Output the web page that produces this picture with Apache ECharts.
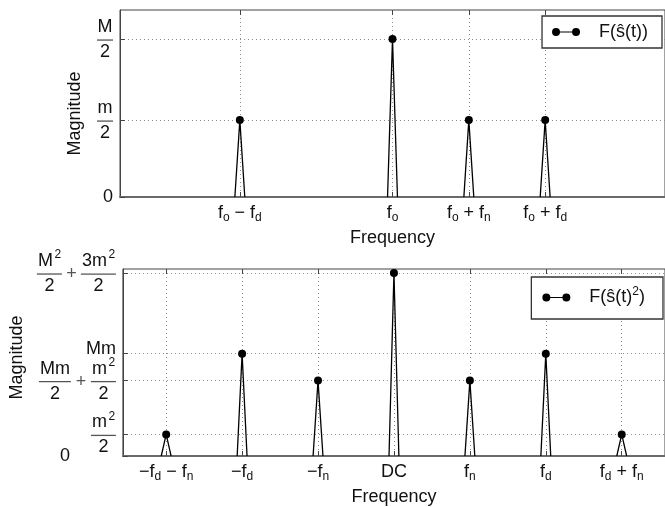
<!DOCTYPE html>
<html>
<head>
<meta charset="utf-8">
<title>Spectrum magnitude</title>
<script src="https://cdn.jsdelivr.net/npm/echarts@6/dist/echarts.min.js"></script>
<style>
  html, body { margin: 0; padding: 0; background: #fff; }
  #chart { width: 665px; height: 507px; }
</style>
</head>
<body>
<div id="chart"></div>
<script>
// ---- data -------------------------------------------------------------
// Frequency positions are in units of f_n (f_d = 2 f_n); magnitudes are
// normalised so that the tallest line of each spectrum is 1.
const TOP_NAME = 'F(ŝ(t))';
const BOTTOM_NAME = 'F(ŝ(t)²)';

// upper spectrum: F(ŝ(t))
const topLevels = [0, 0.487, 1.0];                 // 0, m/2, M/2
const topFreqs = [-2, 0, 1, 2];                    // fo-fd, fo, fo+fn, fo+fd
const topMagnitudes = [0.487, 1.0, 0.487, 0.487];
const topFreqLabels = [
  '{f|f}{s|o}{o| − }{f|f}{s|d}',
  '{f|f}{s|o}',
  '{f|f}{s|o}{o| + }{f|f}{s|n}',
  '{f|f}{s|o}{o| + }{f|f}{s|d}'
];
const topLevelLabels = [
  '{z|0}',
  '{n16|m}\n{b16| }\n{d16|2}',
  '{n16|M}\n{b16| }\n{d16|2}'
];

// lower spectrum: F(ŝ(t)²)
const bottomLevels = [0, 0.118, 0.412, 0.559, 1.0]; // 0, m²/2, Mm/2+m²/2, Mm, M²/2+3m²/2
const bottomFreqs = [-3, -2, -1, 0, 1, 2, 3];       // -fd-fn, -fd, -fn, DC, fn, fd, fd+fn
const bottomMagnitudes = [0.118, 0.559, 0.412, 1.0, 0.412, 0.559, 0.118];
const bottomFreqLabels = [
  '{f|−f}{s|d}{o| − }{f|f}{s|n}',
  '{f|−f}{s|d}',
  '{f|−f}{s|n}',
  '{f|DC}',
  '{f|f}{s|n}',
  '{f|f}{s|d}',
  '{f|f}{s|d}{o| + }{f|f}{s|n}'
];
const bottomLevelLabels = [
  '{z0|0}',
  '{n17|m}{sp8|2}\n{b25| }\n{d25|2}',
  '{n32|Mm}{g20| }{n17|m}{sp8|2}\n{b32| }{pl20|+}{b25| }\n{d32|2}{g20| }{d25|2}',
  '{mm|Mm}',
  '{n17|M}{sp8|2}{g19| }{n27|3m}{sp8|2}\n{b25| }{pl19|+}{b35| }\n{d25|2}{g19| }{d35|2}'
];

// ---- styling ----------------------------------------------------------
const FONT = '"Liberation Sans", Arial, Helvetica, sans-serif';
const X_MIN = -3.57, X_MAX = 3.57;
const SPIKE_HALF_BASE = 0.065;
const TEXT = '#111';
const FRAME = '#444';
const GRIDLINE = { color: '#8c8c8c', width: 1, type: [1, 3] };

function fractionStyles() {
  const r = {
    z: { fontSize: 18, fontFamily: FONT, color: TEXT },
    z0: { fontSize: 18, fontFamily: FONT, color: TEXT, padding: [0, 46, 0, 0] },
    mm: { fontSize: 18, fontFamily: FONT, color: TEXT, padding: [0, 0, 9, 0] }
  };
  [16, 17, 25, 27, 32, 35].forEach(w => {
    r['n' + w] = { width: w, align: 'center', fontSize: 18, lineHeight: 20, fontFamily: FONT, color: TEXT };
    r['d' + w] = { width: w, align: 'center', fontSize: 18, lineHeight: 18, fontFamily: FONT, color: TEXT };
    r['b' + w] = { width: w, align: 'center', height: 1.3, lineHeight: 6, backgroundColor: '#555', fontSize: 4 };
  });
  [19, 20].forEach(w => {
    r['g' + w] = { width: w, align: 'center', fontSize: 12, lineHeight: 6 };
    r['pl' + w] = { width: w, align: 'center', fontSize: 18, lineHeight: 6, fontFamily: FONT, color: '#555' };
  });
  r.sp8 = { width: 8, align: 'center', fontSize: 12, lineHeight: 20, padding: [0, 0, 12, 0], fontFamily: FONT, color: TEXT };
  return r;
}

const freqRich = {
  f: { fontSize: 18, lineHeight: 22, fontFamily: FONT, color: TEXT },
  o: { fontSize: 18, lineHeight: 22, fontFamily: FONT, color: TEXT },
  s: { fontSize: 12, lineHeight: 22, padding: [10, 0, 0, 0], fontFamily: FONT, color: TEXT }
};

function pick(values, labels) {
  return v => {
    const i = values.findIndex(x => Math.abs(x - v) < 1e-9);
    return i < 0 ? '' : labels[i];
  };
}

// each line is a narrow triangle with a dot at its peak
function spikeData(freqs, mags) {
  const out = [];
  freqs.forEach((f, i) => {
    out.push({ value: [f - SPIKE_HALF_BASE, 0], symbol: 'none' });
    out.push({ value: [f, mags[i]] });
    out.push({ value: [f + SPIKE_HALF_BASE, 0], symbol: 'none' });
    out.push({ value: [f + SPIKE_HALF_BASE, '-'], symbol: 'none' });
  });
  return out;
}

function xAxes(gridIndex, ticks, labels) {
  return [{
    type: 'value', gridIndex, min: X_MIN, max: X_MAX, position: 'bottom',
    name: 'Frequency', nameLocation: 'middle', nameGap: 32,
    nameTextStyle: { fontSize: 18, fontFamily: FONT, color: TEXT },
    axisLine: { show: true, onZero: false, lineStyle: { color: '#6a6a6a', width: 2 } },
    axisTick: { show: true, inside: true, length: 5, customValues: ticks, lineStyle: { color: FRAME } },
    axisLabel: {
      customValues: ticks, margin: 5, formatter: pick(ticks, labels),
      rich: freqRich, fontFamily: FONT, color: TEXT
    },
    splitLine: { show: true, lineStyle: GRIDLINE }
  }, {
    type: 'value', gridIndex, min: X_MIN, max: X_MAX, position: 'top',
    axisLine: { show: false, onZero: false },
    axisTick: { show: true, inside: true, length: 5, customValues: ticks, lineStyle: { color: FRAME } },
    axisLabel: { show: false },
    splitLine: { show: false }
  }];
}

function yAxis(gridIndex, levels, labels, max, nameGap, namePad) {
  return {
    type: 'value', gridIndex, min: 0, max, position: 'left',
    name: 'Magnitude', nameLocation: 'middle', nameGap, nameRotate: 90,
    nameTextStyle: { fontSize: 18, fontFamily: FONT, color: TEXT, padding: namePad },
    axisLine: { show: true, onZero: false, lineStyle: { color: FRAME, width: 1 } },
    axisTick: { show: true, inside: true, length: 5, customValues: levels, lineStyle: { color: FRAME } },
    axisLabel: {
      customValues: levels, margin: 7, formatter: pick(levels, labels),
      rich: fractionStyles(), fontFamily: FONT, color: TEXT
    },
    splitLine: { show: true, lineStyle: GRIDLINE }
  };
}

const LEGEND_ICON = 'path://M0,4A4,4,0,1,1,8,4A4,4,0,1,1,0,4Z M8,3.4L20,3.4L20,4.6L8,4.6Z M20,4A4,4,0,1,1,28,4A4,4,0,1,1,20,4Z';

function legend(name, formatter, right, top, padding) {
  return {
    data: [name], right, top, padding, icon: LEGEND_ICON,
    itemWidth: 28, itemHeight: 8,
    backgroundColor: '#fff', borderColor: '#333', borderWidth: 1.3,
    selectedMode: false, formatter,
    textStyle: {
      fontFamily: FONT, color: TEXT,
      rich: {
        g: { width: 14 },
        t: { fontSize: 18, lineHeight: 22, fontFamily: FONT, color: TEXT },
        sp: { fontSize: 12, lineHeight: 22, padding: [0, 0, 11, 0], fontFamily: FONT, color: TEXT }
      }
    }
  };
}

function spikeSeries(name, xi, yi, freqs, mags) {
  return {
    name, type: 'line', xAxisIndex: xi, yAxisIndex: yi,
    data: spikeData(freqs, mags),
    connectNulls: false, showAllSymbol: true,
    symbol: 'circle', symbolSize: 8,
    lineStyle: { color: '#000', width: 1.3 },
    itemStyle: { color: '#000' },
    clip: false, z: 5
  };
}

const chart = echarts.init(document.getElementById('chart'), null, { renderer: 'canvas' });
chart.setOption({
  animation: false,
  backgroundColor: '#fff',
  grid: [
    { left: 120, top: 10, width: 546, height: 187, show: true, borderColor: FRAME, borderWidth: 1, backgroundColor: 'transparent' },
    { left: 120, top: 269, width: 546, height: 188, show: true, borderColor: FRAME, borderWidth: 1, backgroundColor: 'transparent' }
  ],
  xAxis: [
    ...xAxes(0, topFreqs, topFreqLabels),
    ...xAxes(1, bottomFreqs, bottomFreqLabels)
  ],
  yAxis: [
    yAxis(0, topLevels, topLevelLabels, 1.184, 36, [0, 20, 0, 0]),
    yAxis(1, bottomLevels, bottomLevelLabels, 1.022, 92, [0, 0, 0, 10])
  ],
  legend: [
    legend(TOP_NAME, '{g| }{t|F(ŝ(t))}', 3, 16, [7, 14, 7, 10]),
    legend(BOTTOM_NAME, '{g| }{t|F(ŝ(t)}{sp|2}{t|)}', 2, 277, [9, 18, 10, 11])
  ],
  series: [
    spikeSeries(TOP_NAME, 0, 0, topFreqs, topMagnitudes),
    spikeSeries(BOTTOM_NAME, 2, 1, bottomFreqs, bottomMagnitudes)
  ]
});
</script>
</body>
</html>
